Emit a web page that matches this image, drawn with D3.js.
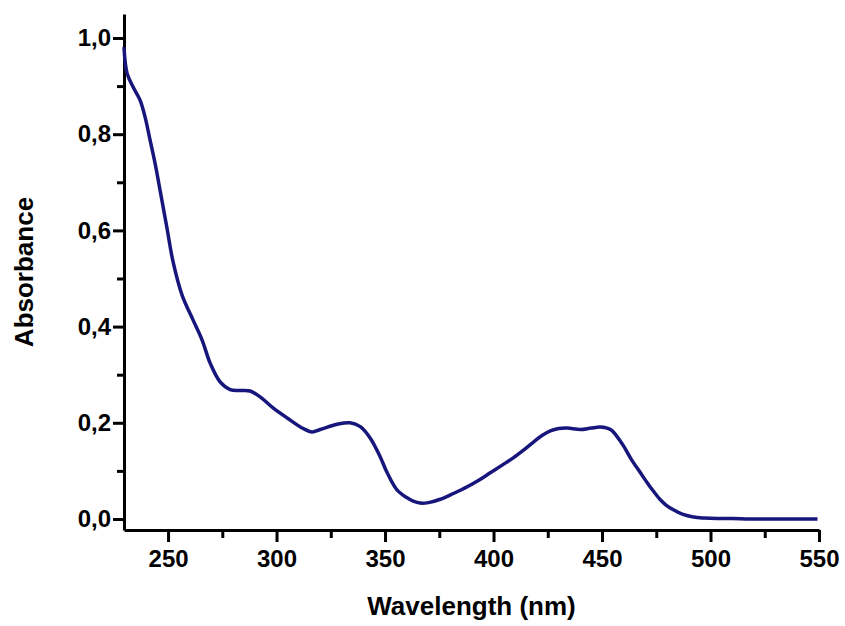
<!DOCTYPE html>
<html>
<head>
<meta charset="utf-8">
<script src="https://cdn.jsdelivr.net/npm/d3@7"></script>
<style>
    body { margin: 0; background: #fff; }
    .axis path, .axis line { stroke: #000; stroke-width: 3; }
    .axis text { font-family: "Liberation Sans", Arial, sans-serif; font-weight: bold; font-size: 24px; fill: #000; }
    .title { font-family: "Liberation Sans", Arial, sans-serif; font-weight: bold; font-size: 26px; fill: #000; }
</style>
</head>
<body>
<script>
let wavelength = [229.7, 231.1, 233.9, 237.1, 239.4, 241.7, 244.0, 246.3, 249.5, 252.3,
                  256.5, 261.5, 265.7, 269.4, 274.0, 278.6, 283.0, 287.8, 292.4, 298.4,
                  304.9, 312.3, 316.4, 320.1, 328.0, 333.9, 338.6, 343.2, 347.8, 351.0,
                  355.6, 360.2, 363.0, 366.2, 370.0, 375.5, 381.5, 387.9, 393.0, 398.5,
                  404.0, 409.1, 413.5, 418.4, 422.5, 426.2, 430.0, 434.0, 440.0, 445.0,
                  449.3, 453.9, 456.5, 459.9, 463.5, 467.7, 470.9, 474.0, 476.9, 479.5,
                  482.9, 487.0, 492.2, 497.0, 503.2, 510.0, 518.0, 526.3, 534.0, 542.0, 549.3];
let absorbance = [0.981, 0.927, 0.898, 0.871, 0.836, 0.788, 0.740, 0.684, 0.605, 0.535,
                  0.465, 0.414, 0.372, 0.324, 0.285, 0.269, 0.267, 0.266, 0.254, 0.231,
                  0.210, 0.188, 0.181, 0.186, 0.197, 0.200, 0.192, 0.168, 0.129, 0.096,
                  0.060, 0.044, 0.037, 0.033, 0.034, 0.041, 0.053, 0.067, 0.080, 0.096,
                  0.112, 0.127, 0.142, 0.160, 0.174, 0.183, 0.188, 0.189, 0.186, 0.189,
                  0.191, 0.186, 0.174, 0.152, 0.124, 0.096, 0.075, 0.056, 0.040, 0.029,
                  0.019, 0.010, 0.004, 0.002, 0.001, 0.001, 0.000, 0.000, 0.000, 0.000, 0.000];

let xTicks = [250, 300, 350, 400, 450, 500, 550],
    xMinorTicks = [275, 325, 375, 425, 475, 525],
    yTicks = [0.0, 0.2, 0.4, 0.6, 0.8, 1.0],
    yMinorTicks = [0.1, 0.3, 0.5, 0.7, 0.9];

let svgContainer,
    svgWidth = 845,
    svgHeight = 626,
    plot = { left: 124, right: 819, top: 14, bottom: 530 },
    xDomain = [229.7, 550],
    yDomain = [-0.0229, 1.0499],
    lineColor = "#16167c";

let xScale = d3.scaleLinear().domain(xDomain).range([plot.left, plot.right]);
let yScale = d3.scaleLinear().domain(yDomain).range([plot.bottom, plot.top]);
let fmt = d => d3.format(".1f")(d).replace(".", ",");

function init() {
    svgContainer = d3.select("body").append("svg")
    .attr("width", svgWidth)
    .attr("height", svgHeight);

    drawAxes();
    drawSpectrum();
    drawTitles();
}

function drawAxes() {
    // minor ticks first, majors on top
    svgContainer.append("g")
    .attr("class", "axis")
    .attr("transform", "translate(0," + plot.bottom + ")")
    .call(d3.axisBottom(xScale).tickValues(xMinorTicks).tickSize(8).tickFormat(""))
    .select(".domain").remove();

    svgContainer.append("g")
    .attr("class", "axis")
    .attr("transform", "translate(" + plot.left + ",0)")
    .call(d3.axisLeft(yScale).tickValues(yMinorTicks).tickSize(7).tickFormat(""))
    .select(".domain").remove();

    svgContainer.append("g")
    .attr("class", "axis")
    .attr("transform", "translate(0," + plot.bottom + ")")
    .call(d3.axisBottom(xScale).tickValues(xTicks).tickSize(12).tickSizeOuter(0).tickPadding(8).tickFormat(d3.format("d")));

    svgContainer.append("g")
    .attr("class", "axis")
    .attr("transform", "translate(" + plot.left + ",0)")
    .call(d3.axisLeft(yScale).tickValues(yTicks).tickSize(11).tickSizeOuter(0).tickPadding(2).tickFormat(fmt));
}

function drawSpectrum() {
    let points = wavelength.map((w, i) => [w, absorbance[i]]);
    let line = d3.line()
    .x(d => xScale(d[0]))
    .y(d => yScale(d[1]))
    .curve(d3.curveCatmullRom.alpha(0.5));

    svgContainer.append("path")
    .datum(points)
    .attr("d", line)
    .attr("fill", "none")
    .attr("stroke", lineColor)
    .attr("stroke-width", 3.5)
    .attr("stroke-linejoin", "round");
}

function drawTitles() {
    svgContainer.append("text")
    .attr("class", "title")
    .attr("x", (plot.left + plot.right) / 2)
    .attr("y", 615)
    .attr("text-anchor", "middle")
    .text("Wavelength (nm)");

    svgContainer.append("text")
    .attr("class", "title")
    .attr("transform", "translate(33," + (plot.top + plot.bottom) / 2 + ") rotate(-90)")
    .attr("text-anchor", "middle")
    .text("Absorbance");
}

init();
</script>
</body>
</html>
